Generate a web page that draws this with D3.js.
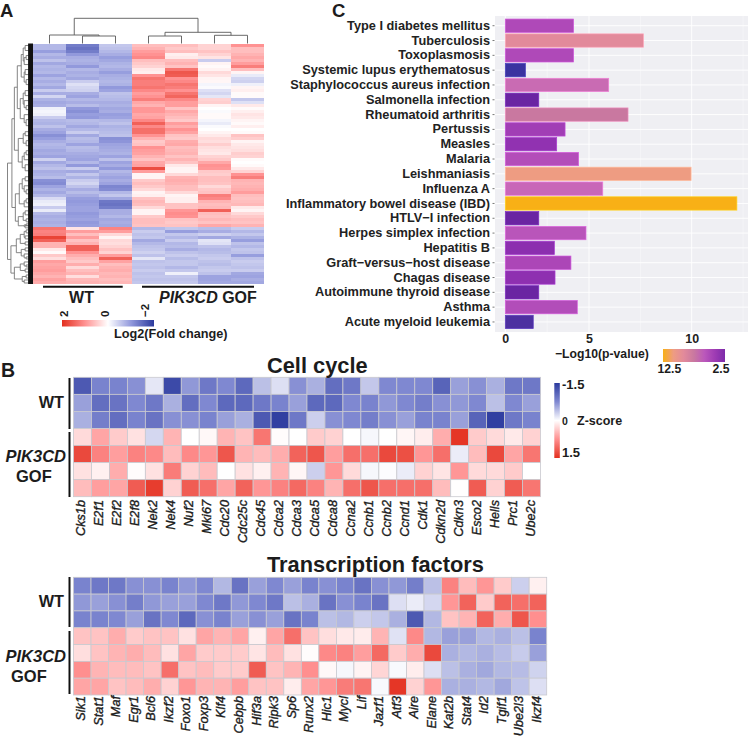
<!DOCTYPE html>
<html><head><meta charset="utf-8">
<style>
html,body{margin:0;padding:0;background:#fff}
svg{display:block}
text{font-family:"Liberation Sans",Arial,sans-serif;fill:#1c1c1c}
.axis path{display:none}
.axis line{stroke:#555;stroke-width:.8}
.axis text{font-family:"Liberation Sans";font-weight:700;fill:#222}
</style>
<script src="https://cdn.jsdelivr.net/npm/d3@7"></script>
</head><body><svg id="c" width="748" height="737"></svg>
<script>
// ---------- Panel A data: rows x samples (log2 fold change) ----------
const foldRows = [
[-.7,-1.3,-.55,.6,.6,.4,1.0],[-.7,-1.4,-.6,.7,.5,.4,.6],[-.95,-1.3,-.7,.9,.6,.55,.6],[-.7,-1.0,-.8,1.0,.15,.4,.7],
[-.8,-.8,-.95,1.1,.2,.25,.8],[-.6,-.75,-.85,.6,.6,-.5,.7],[-.85,-.8,-.75,.5,.7,.1,.9],[-.7,-1.0,-.7,.4,.55,.05,1.2],
[-.75,-.7,-.8,.2,1.3,.12,.6],[-.7,-.8,-.95,.15,1.6,.35,.1],[-.9,-.75,-.8,1.0,1.55,.25,-.2],[-.7,-.85,-.75,1.3,1.0,.1,-.4],
[-.8,-.5,-.7,1.2,1.1,.08,-.45],[-.7,-.3,-.75,1.2,1.3,-.1,-.15],[-.85,-.4,-1.0,1.3,1.2,-.05,.1],[-.5,-.45,-.9,1.1,1.0,-.3,.15],
[-.8,-.8,-.6,.9,1.3,-.4,.05],[-.4,-.9,-.65,1.0,1.45,-.25,.05],[-.75,-.7,-.7,1.2,1.1,.4,-.55],[-.85,-.8,-.8,.8,.9,.45,-.3],
[-.8,-.65,-.75,.7,.9,.1,.2],[-.15,-1.0,-.85,.95,.55,0,.05],[-.1,-1.1,-.8,.95,.8,-.05,.15],[-.15,-.95,-.95,.8,.7,.05,.25],
[-.5,-1.0,-.9,.85,.6,.05,.2],[-.7,-.65,-.7,1.1,.5,-.1,.1],[-.75,-.7,-.6,1.5,.9,-.2,.05],[-.6,-.85,-.75,1.1,.75,-.05,.15],
[-.8,-.7,-.7,1.35,1.0,0,0],[-.9,-.5,-.65,1.35,.85,.1,.05],[-1.1,-.85,-.6,1.0,.55,.2,.55],[-.95,-.65,-1.1,.7,.5,.35,.45],
[-.8,-.7,-1.05,.5,.75,.3,.1],[-.7,-.9,-.9,.55,.8,.45,.2],[-.75,-.65,-.85,1.0,.6,.3,.25],[-.85,-.7,-.8,.9,.65,.25,.3],
[-.8,-.8,-.75,.85,.7,.2,.45],[-.9,-.85,-.9,.7,.55,.4,.4],[-.45,-.9,-.6,.55,.7,.5,.05],[-.85,-.7,-.9,.8,.55,.8,0],
[-.7,-1.0,-.8,.85,.2,1.0,.05],[-.6,-.5,-1.0,1.7,.1,.95,.2],[-.8,-.85,-.7,.9,.1,.5,.4],[-.75,-.55,-.8,.1,.35,.45,1.0],
[-.65,-.75,-.9,.1,.7,.6,1.2],[-1.1,-.5,-.8,.5,.75,.6,.7],[-1.15,-.4,-.9,.6,.7,.55,.65],[-.9,-.6,-1.2,.5,.6,.35,.7],
[-.75,-.8,-1.15,.35,.6,.5,.75],[-.85,-.65,-.7,.1,.35,.55,.9],[-.7,-.8,-.55,.15,.1,1.2,.6],[-.35,-.95,-.85,.55,.15,1.1,.55],
[-.2,-1.0,-1.35,.65,.15,.7,.6],[-.15,-.95,-1.4,.6,.55,.6,.65],[-.5,-.9,-1.3,.35,.55,.65,.2],[-.2,-.9,-.8,.1,.95,1.5,.1],
[-.7,-1.0,-.8,.1,1.05,.6,.35],[-.8,-.95,-.7,.5,1.0,.55,.5],[-.75,-.9,-.85,.6,.55,.65,.6],[-.8,-1.0,-.8,.6,.5,.55,.55],
[-.75,-.95,-.85,.55,.55,.8,.7],
[1.3,.25,1.15,-.7,-.55,-.65,-.5],[1.15,.9,.9,-.5,-.95,-.8,-.7],[1.2,.6,.35,-.6,-.55,-.45,-.55],[1.8,.9,.1,-.55,-.7,-.85,-.75],
[1.5,.55,.35,-.85,-.5,-.25,-.95],[.7,.7,.3,-.7,-.7,-.3,-.6],[.7,1.5,.4,-.6,-.65,-.6,-.7],[.2,1.5,.55,-.55,-.8,-.7,-.55],
[.05,1.0,.4,-.45,-.6,-.65,-.6],[.5,.75,.9,-.6,-.5,-.55,-.95],[.3,.6,1.5,-.25,-.65,-.5,-.6],[.9,.5,.85,-.6,-.55,-.6,-.5],
[.8,.75,.6,-.55,-.55,-.65,-.55],[.85,.35,.7,-.6,-.7,-.55,-.6],[.9,.6,.75,-.5,-.55,-.5,-.5],[.8,.7,.65,-.6,-.15,-.6,-.85],
[.7,.3,.7,-.55,-.55,-.9,-.9],[.85,.65,.6,-.6,-.6,-.9,-.8],[.75,.7,.65,-.55,-.55,-.85,-.85]
];
const foldStops=[2,1,0,-1,-2];
const foldColors=["#e3301f","#ff9292","#ffffff","#9299dc","#2b3a9e"];
const foldLegendTicks=["2","0","−2"];
const sampleIdx=[0,1,2,3,4,5,6];
// dendrograms: [height, child, child]; leaves are positions
const colTree=[25.2,[8.5,0,[7.5,1,2]],[11.2,[7.5,3,4],[8.2,5,6]]];
const rowTree=[26,
 [21.5,
  [19,
   [16,
    [12,[10,[8,2,7],[9,[7,12,16],21]],[9,[8,26,31],[7,36,41]]],
    [13,[10,[8,47,52],[9,57,[7,62,66]]],[9,71,[7,76,82]]]],
   [15,[10,[8,88,92],[7,97,102]],[11,[9,[7,107,111],116],[8,121,127]]]],
  [18,
   [14,[11,[8,133,137],[9,142,[7,146,150]]],[9,[7,155,159],163]],
   [15,[10,[8,167,171],[7,175,178]],[9,[7,180,182],[8,184,181.5]]]]],
 [22.5,
  [17,[13,[9,[7,186,189],[8,192,195]],[8,198,201]],[12,[8,204,207],[9,210,[7,213,215]]]],
  [19,[13,[9,218,[7,221,223]],[8,225,228]],[11,[7,231,234],[9,236,239]]]]
];
// ---------- Panel B data ----------
const cycleGenes=["Cks1b","E2f1","E2f2","E2f8","Nek2","Nek4","Nuf2","Mki67","Cdc20","Cdc25c","Cdc45","Cdca2","Cdca3","Cdca5","Cdca8","Ccna2","Ccnb1","Ccnb2","Ccnd1","Cdk1","Cdkn2d","Cdkn3","Esco2","Hells","Prc1","Ube2c"];
const cycleZ=[
[-1.2,-.8,-.8,-.7,-.15,-1.35,-.65,-.9,-.75,-1.05,-.4,-.2,-.7,-.5,-1,-.9,-.35,-.75,-.75,-.75,-1.1,-.6,-.7,-.5,-.9,-.9],
[-.6,-1,-.95,-.75,-.9,-.5,-1,-.75,-1.05,-1.05,-.9,-.8,-.6,-1.05,-1.05,-.75,-.8,-.65,-.75,-.85,-.7,-.65,-.75,-.4,-.75,-.6],
[-.5,-.85,-1,-.8,-.95,-.7,-.7,-.8,-.6,-.5,-1.2,-1.45,-.9,-.3,-.7,-.75,-.85,-.7,-.6,-.8,-.8,-.6,-1.1,-1.45,-.9,-.8],
[.25,.6,.35,.2,-.25,.5,0,.05,.5,.4,.95,.02,0,.35,.3,0,-.05,0,.06,.12,.55,1.45,.35,.25,.15,.3],
[1.3,.85,.65,.85,.8,.45,.8,.7,1.2,.5,.45,.55,1.1,1.2,.65,1,1,1.3,1.25,.7,1,-.12,.45,1.3,.6,.95],
[.2,.1,.55,.02,.2,.9,.3,.45,0,.2,.1,.5,.06,-.3,.7,.25,-.05,-.02,-.12,.3,.18,.7,.25,.25,.35,0],
[.45,.65,.6,1.15,1.4,.3,1.15,1,.6,1.1,.7,.85,1.05,.85,.5,1,1.2,1,1,1,.45,.01,1.15,.3,1.15,.95]
];
const tfGenes=["Sik1","Stat1","Maf","Egr1","Bcl6","Ikzf2","Foxo1","Foxp3","Klf4","Cebpb","Hif3a","Ripk3","Sp6","Runx2","Hic1","Mycl","Lif","Jazf1","Atf3","Aire","Elane","Kat2b","Stat4","Id2","Tgif1","Ube2l3","Ikzf4"];
const tfZ=[
[-.8,-.9,-.9,-.7,-.7,-.8,-.65,-.75,-.45,-.95,-.6,-.75,-.6,-.8,-.7,-.8,-.95,-.7,-.65,-.85,-.4,.85,.45,.7,.35,-.3,.1],
[-.65,-.6,-.7,-.85,-.65,-.6,-.6,-.75,-.9,-.65,-.75,-.9,-.4,-.5,-.95,-.7,-.8,-.95,-.2,-.12,-.25,.7,1.1,.35,1.1,1,1.1],
[-.8,-.8,-.75,-.6,-.95,-.75,-1.05,-.7,-.8,-.6,-.7,-.6,-.95,-.8,-.4,-.45,-.3,-.35,-.5,-1.2,-.45,.4,.5,1.1,.55,1.2,.75],
[.4,.4,.55,.35,.4,.4,.2,.6,.5,.6,.1,.6,1,.4,.22,.15,.13,.5,-.18,.8,-.45,-.6,-.6,-.45,-.5,-.4,-.8],
[.22,.4,.5,.55,.45,.2,.6,.35,.35,.35,.18,.45,.2,.02,.8,.85,.65,1.05,.35,.55,1.3,-.5,-.45,-.5,-.42,-.33,-.6],
[.75,.5,.45,.45,.4,1,.4,.45,.35,.35,1.15,.4,.5,.75,.05,-.05,.08,.28,-.04,.12,-.2,-.4,-.5,-.55,-.45,-.42,-.28],
[.6,.6,.4,.45,.55,.3,.7,.5,.5,.65,.4,.4,.12,.6,.7,.9,.95,-.04,1.45,.3,.7,-.5,-.5,-.45,-.55,-.38,-.2]
];
const zStops=[-1.5,-.75,0,.75,1.5];
const zColors=["#2b3a9e","#7f88d1","#ffffff","#ff8f8f","#e3301f"];
// ---------- Panel C data ----------
const pathways=["Type I diabetes mellitus","Tuberculosis","Toxoplasmosis","Systemic lupus erythematosus","Staphylococcus aureus infection","Salmonella infection","Rheumatoid arthritis","Pertussis","Measles","Malaria","Leishmaniasis","Influenza A","Inflammatory bowel disease (IBD)","HTLV−I infection","Herpes simplex infection","Hepatitis B","Graft−versus−host disease","Chagas disease","Autoimmune thyroid disease","Asthma","Acute myeloid leukemia"];
const logP=[4.08,7.65,4.08,1.2,5.96,2,6.9,3.57,3.07,4.38,9.97,5.67,12.2,2,4.82,2.93,3.92,2.97,2,4.3,1.67];
const pStops=[1.2,1.67,2,3,4,5,5.7,6.9,7.65,10,12.2];
const pColors=["#3a33a0","#4d30a0","#6a25a2","#8f30b0","#ae48b8","#bb58bb","#c968b8","#c978a0","#e28a9b","#ee9c82","#f8b016"];
const pTicks=[0,5,10];
const pLegendStops=[2.5,3.5,5,6.9,7.65,10,12.5];

const svg=d3.select("#c");
const txt=(s,x,y,size,o={})=>{
  const t=svg.append("text").attr("x",x).attr("y",y).attr("font-size",size).text(s);
  t.attr("font-weight",o.nb?400:700);
  if(o.anchor)t.attr("text-anchor",o.anchor);
  if(o.italic)t.attr("font-style","italic");
  if(o.rot)t.attr("transform",`rotate(${o.rot} ${x} ${y})`);
  return t;
};
const defs=svg.append("defs");
function grad(id,colors,horizontal){
  const g=defs.append("linearGradient").attr("id",id).attr("x1",0).attr("y1",0).attr("x2",horizontal?1:0).attr("y2",horizontal?0:1);
  colors.forEach((c,i)=>g.append("stop").attr("offset",i/(colors.length-1)).attr("stop-color",c));
}
// ---- Panel letters
txt("A",0,16.5,18.5);txt("C",332,16.5,18.5);txt("B",1,377,19.5);

// ---- Panel A
const foldColor=d3.scaleLinear().domain(foldStops).range(foldColors).clamp(true);
const ax=d3.scaleBand().domain(sampleIdx).range([33,264]);
const ay=d3.scaleBand().domain(d3.range(foldRows.length)).range([43.5,284]);
const ag=svg.append("g").attr("shape-rendering","crispEdges");
foldRows.forEach((r,i)=>r.forEach((v,j)=>ag.append("rect").attr("x",ax(j)).attr("y",ay(i)).attr("width",ax.bandwidth()+.3).attr("height",ay.bandwidth()+.3).attr("fill",foldColor(v))));
// dendrograms
function drawTree(tree,posScale,hScale,vertical,color){
  const g=svg.append("g").attr("fill","none").attr("stroke",color).attr("stroke-width",.9);
  const seg=(p1,h1,p2,h2)=> vertical
    ? g.append("line").attr("x1",posScale(p1)).attr("x2",posScale(p2)).attr("y1",hScale(h1)).attr("y2",hScale(h2))
    : g.append("line").attr("y1",posScale(p1)).attr("y2",posScale(p2)).attr("x1",hScale(h1)).attr("x2",hScale(h2));
  (function walk(n){
    if(typeof n==="number")return {p:n,h:0};
    const a=walk(n[1]),b=walk(n[2]);
    seg(a.p,n[0],b.p,n[0]);seg(a.p,n[0],a.p,a.h);seg(b.p,n[0],b.p,b.h);
    return {p:(a.p+b.p)/2,h:n[0]};
  })(tree);
}
drawTree(colTree,d3.scaleLinear().domain([0,6]).range([49.5,247.5]),d3.scaleLinear().domain([0,25.2]).range([43.5,18.3]),true,"#5a5a5a");
const treeH=d3.scaleLinear().domain([0,26]).range([33,7.5]);
const treeP=d3.scaleLinear().domain([0,240]).range([43.5,284]);
drawTree(rowTree,treeP,treeH,false,"#777");
svg.append("rect").attr("x",treeH(5)).attr("y",43.5).attr("width",treeH(0)-treeH(5)).attr("height",240.5).attr("fill","#111");
// group bars
const lineStroke=(x1,x2,y1,y2,w=2)=>svg.append("line").attr("x1",x1).attr("x2",x2).attr("y1",y1).attr("y2",y2).attr("stroke","#111").attr("stroke-width",w);
lineStroke(43,122.7,286.7,286.7);lineStroke(142,254,286.7,286.7);
txt("WT",81.5,303,16,{anchor:"middle"});
const gofA=txt("",159,303,16);
gofA.append("tspan").attr("font-style","italic").text("PIK3CD");gofA.append("tspan").text(" GOF");
grad("gFold",foldColors,true);
svg.append("rect").attr("x",62).attr("y",320).attr("width",92).attr("height",6.5).attr("fill","url(#gFold)");
const legX=d3.scalePoint().domain(foldLegendTicks).range([65,146]);
foldLegendTicks.forEach(t=>txt(t,legX(t)+3,317,11.5,{rot:-90}));
txt("Log2(Fold change)",114,338,12.7);

// ---- Panel B
const zColor=d3.scaleLinear().domain(zStops).range(zColors).clamp(true);
function zHeat(genes,vals,x0,x1,y0,y1,labelY){
  const x=d3.scaleBand().domain(genes).range([x0,x1]);
  const y=d3.scaleBand().domain(d3.range(vals.length)).range([y0,y1]);
  const g=svg.append("g");
  vals.forEach((r,i)=>r.forEach((v,j)=>g.append("rect").attr("x",x(genes[j])).attr("y",y(i)).attr("width",x.bandwidth()).attr("height",y.bandwidth()).attr("fill",zColor(v)).attr("stroke","#c9c9cf").attr("stroke-width",.8)));
  genes.forEach(n=>{txt(n,x(n)+x.bandwidth()/2+3,labelY,12.7,{italic:true,anchor:"end",rot:-90,nb:true}).attr("stroke","#1c1c1c").attr("stroke-width",.35);});
}
zHeat(cycleGenes,cycleZ,73.5,540.5,377.3,496.7,500);
zHeat(tfGenes,tfZ,73.5,546.7,577.3,695,696);
txt("Cell cycle",267,373,21.8);
txt("Transcription factors",267,572,21.8);
const groupLabel=(wtY,pY,gY,gX,b1,b2,b3,b4)=>{
  txt("WT",64,wtY,16.3,{anchor:"end"});
  txt("PIK3CD",66,pY,16.5,{anchor:"end",italic:true});
  txt("GOF",gX,gY,16.5);
  lineStroke(69.5,69.5,b1,b2);lineStroke(69.5,69.5,b3,b4);
};
groupLabel(408,462,482,16,378,429,432,497);
groupLabel(607,662,682,11,577,627,631,694);
grad("gZ",zColors,false);
const zLeg=d3.scaleLinear().domain([-1.5,1.5]).range([383,458]);
svg.append("rect").attr("x",554.3).attr("y",zLeg(-1.5)).attr("width",5.5).attr("height",zLeg(1.5)-zLeg(-1.5)).attr("fill","url(#gZ)");
txt("-1.5",562,389,13);txt("0",562,424.5,10.5);txt("1.5",562,457,13);
txt("Z-score",577,425,12.5);

// ---- Panel C
const xC=d3.scaleLinear().domain([0,5,10]).range([505.3,589,691.7]);
const yC=d3.scaleBand().domain(pathways).range([17.56,330.1]).padding(.1);
const pColor=d3.scaleLinear().domain(pStops).range(pColors).clamp(true);
svg.append("rect").attr("x",495).attr("y",16).attr("width",253).attr("height",316).attr("fill","#efeff3");
const grid=svg.append("g").attr("stroke","#fff");
pathways.forEach(p=>grid.append("line").attr("x1",495).attr("x2",748).attr("y1",yC(p)+yC.bandwidth()/2).attr("y2",yC(p)+yC.bandwidth()/2).attr("stroke-width",.9));
pTicks.forEach(t=>grid.append("line").attr("x1",xC(t)).attr("x2",xC(t)).attr("y1",16).attr("y2",332).attr("stroke-width",.9));
[2.5,7.5,12.5].forEach(t=>grid.append("line").attr("x1",xC(t)).attr("x2",xC(t)).attr("y1",16).attr("y2",332).attr("stroke-width",.4));
const barG=svg.append("g");
pathways.forEach((p,i)=>barG.append("rect").attr("x",xC(0)).attr("y",yC(p)).attr("width",xC(logP[i])-xC(0)).attr("height",yC.bandwidth()).attr("fill",pColor(logP[i])).attr("stroke",d3.color(pColor(logP[i])).brighter(.5)).attr("stroke-width",.7));
const axL=svg.append("g").attr("class","axis").attr("transform","translate(494.5,0)").call(d3.axisLeft(yC).tickSize(2).tickPadding(2.5));
axL.selectAll("text").attr("font-size",12.75);
const axB=svg.append("g").attr("class","axis").attr("transform","translate(0,332)").call(d3.axisBottom(xC).tickValues(pTicks).tickFormat(d3.format("d")).tickSize(0).tickPadding(2.5));
axB.selectAll("text").attr("font-size",12.4);
txt("−Log10(p-value)",555,358,12.2);
grad("gP",pLegendStops.slice().reverse().map(v=>pColor(v)),true);
svg.append("rect").attr("x",663).attr("y",349).attr("width",62).attr("height",13).attr("fill","url(#gP)");
txt("12.5",657.5,373,12.2);txt("2.5",712.5,373,12.2);
</script></body></html>
